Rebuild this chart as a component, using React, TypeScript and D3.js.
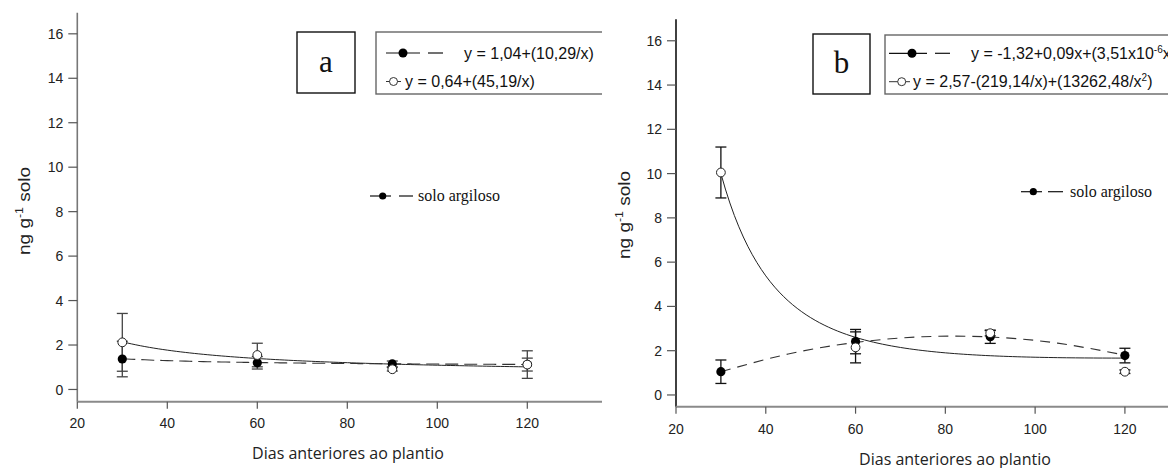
import React from "react";
import * as d3 from "d3";

// Sampling days (x values of every measured point)
const days = [30, 60, 90, 120];

// Panel a — means and standard errors (ng g-1 solo)
const aFilledMean = [1.37, 1.2, 1.15, 1.12];
const aFilledErr = [0.8, 0.28, 0.13, 0.29];
const aOpenMean = [2.12, 1.55, 0.91, 1.12];
const aOpenErr = [1.3, 0.53, 0.08, 0.62];

// Panel b — means and standard errors
const bFilledMean = [1.05, 2.41, 2.63, 1.78];
const bFilledErr = [0.53, 0.55, 0.3, 0.33];
const bOpenMean = [10.05, 2.15, 2.79, 1.05];
const bOpenErr = [1.15, 0.7, 0.12, 0.08];

// Regression coefficients printed in the legends
const aFilledFit = [1.04, 10.29]; // y = a + b/x
const aOpenFit = [0.64, 45.19]; // y = a + b/x
const bOpenFit = [2.57, -219.14, 13262.48]; // y = a + b/x + c/x^2

// Fitted dashed curve of panel b, read at regular days
const bFilledCurveDays = [30, 45, 60, 75, 90, 105, 120];
const bFilledCurveVals = [1.05, 1.85, 2.37, 2.63, 2.62, 2.34, 1.8];

const yTicks = [0, 2, 4, 6, 8, 10, 12, 14, 16];
const xTicks = [20, 40, 60, 80, 100, 120];

const SANS = "'Liberation Sans', Arial, sans-serif";
const SERIF = "'Liberation Serif', 'Times New Roman', serif";
const XLAB = "'Open Sans', 'Noto Sans', sans-serif";

type PanelProps = {
  x0: number;
  x1: number;
  xDom: [number, number];
  yTop: number;
  yBot: number;
  yDom: [number, number];
  yAxisColor: string;
  errColor: string;
  filledMean: number[];
  filledErr: number[];
  openMean: number[];
  openErr: number[];
  filledCurve: [number, number][];
  openCurve: [number, number][];
  dash: string;
  yLabelX: number;
  yLabelY: number;
  xLabelX: number;
  xLabelY: number;
  tickLabelDy: number;
};

function sampleFit(f: (x: number) => number): [number, number][] {
  return d3.range(30, 120.01, 1).map((x) => [x, f(x)] as [number, number]);
}

function Panel(p: PanelProps) {
  const x = d3.scaleLinear().domain(p.xDom).range([p.x0, p.x1]);
  const y = d3.scaleLinear().domain(p.yDom).range([p.yBot, p.yTop]);
  const y0 = y(p.yDom[0]);
  const filledLine = d3
    .line<[number, number]>()
    .x((d) => x(d[0]))
    .y((d) => y(d[1]))
    .curve(d3.curveNatural);
  const openLine = d3
    .line<[number, number]>()
    .x((d) => x(d[0]))
    .y((d) => y(d[1]))
    .curve(d3.curveLinear);
  const cap = 5.5;

  const errBars = (mean: number[], err: number[], key: string) =>
    days.map((d, i) => {
      const cx = x(d);
      const top = y(mean[i] + err[i]);
      const bot = y(mean[i] - err[i]);
      return (
        <g key={key + i} stroke={p.errColor} strokeWidth={1.3}>
          <line x1={cx} x2={cx} y1={top} y2={bot} />
          <line x1={cx - cap} x2={cx + cap} y1={top} y2={top} />
          <line x1={cx - cap} x2={cx + cap} y1={bot} y2={bot} />
        </g>
      );
    });

  return (
    <g>
      {/* axes */}
      <line x1={p.x0} x2={p.x0} y1={p.yTop} y2={y0} stroke={p.yAxisColor} strokeWidth={1.6} />
      <line x1={p.x0} x2={p.x1 + 40} y1={y0} y2={y0} stroke="#8a8a8a" strokeWidth={2} />
      {yTicks.map((t) => (
        <g key={"yt" + t}>
          <line x1={p.x0 - 9} x2={p.x0} y1={y(t)} y2={y(t)} stroke="#555" strokeWidth={1.2} />
          <text
            x={p.x0 - 14}
            y={y(t)}
            dy="0.36em"
            textAnchor="end"
            fontFamily={SANS}
            fontSize={14}
            fill="#222"
          >
            {t}
          </text>
        </g>
      ))}
      {xTicks.map((t) => (
        <g key={"xt" + t}>
          <line x1={x(t)} x2={x(t)} y1={y0} y2={y0 + 7} stroke="#555" strokeWidth={1.2} />
          <text
            x={x(t)}
            y={y0 + p.tickLabelDy}
            dy="0.36em"
            textAnchor="middle"
            fontFamily={SANS}
            fontSize={14}
            fill="#222"
          >
            {t}
          </text>
        </g>
      ))}
      <text
        transform={`translate(${p.yLabelX},${p.yLabelY}) rotate(-90)`}
        textAnchor="middle"
        fontFamily={SANS}
        fontSize={17}
        fill="#222"
        textLength={88}
        lengthAdjust="spacingAndGlyphs"
      >
        ng g
        <tspan fontSize={11} dy="-7">-1</tspan>
        <tspan dy="7"> solo</tspan>
      </text>
      <text
        x={p.xLabelX}
        y={p.xLabelY}
        textAnchor="middle"
        fontFamily={XLAB}
        fontSize={16}
        fill="#222"
      >
        Dias anteriores ao plantio
      </text>

      {/* fitted curves */}
      <path d={openLine(p.openCurve) || ""} fill="none" stroke="#222" strokeWidth={1} />
      <path
        d={filledLine(p.filledCurve) || ""}
        fill="none"
        stroke="#333"
        strokeWidth={1.1}
        strokeDasharray={p.dash}
      />

      {/* error bars and points */}
      {errBars(p.filledMean, p.filledErr, "fe")}
      {errBars(p.openMean, p.openErr, "oe")}
      {days.map((d, i) => (
        <circle key={"fp" + i} cx={x(d)} cy={y(p.filledMean[i])} r={4.6} fill="#000" />
      ))}
      {days.map((d, i) => (
        <circle
          key={"op" + i}
          cx={x(d)}
          cy={y(p.openMean[i])}
          r={4.4}
          fill="#fff"
          stroke="#222"
          strokeWidth={1}
        />
      ))}
    </g>
  );
}

function Legend(props: {
  bx: number;
  by: number;
  bh: number;
  row1: number;
  row2: number;
  sym1: { l0: number; l1: number; dot: number; d0: number; d1: number; tx: number };
  sym2: { l0: number; l1: number; dot: number; tx: number };
  eq1: React.ReactNode;
  eq2: React.ReactNode;
}) {
  const { sym1, sym2 } = props;
  return (
    <g>
      <rect
        x={props.bx}
        y={props.by}
        width={360}
        height={props.bh}
        fill="#fff"
        stroke="#666"
        strokeWidth={1.4}
      />
      <line x1={sym1.l0} x2={sym1.l1} y1={props.row1} y2={props.row1} stroke="#111" strokeWidth={1.2} />
      <line x1={sym1.d0} x2={sym1.d1} y1={props.row1} y2={props.row1} stroke="#111" strokeWidth={1.2} />
      <circle cx={sym1.dot} cy={props.row1} r={4.5} fill="#000" />
      <text x={sym1.tx} y={props.row1} dy="0.36em" fontFamily={SANS} fontSize={16} fill="#111">
        {props.eq1}
      </text>
      <line x1={sym2.l0} x2={sym2.l1} y1={props.row2} y2={props.row2} stroke="#333" strokeWidth={1} />
      <circle cx={sym2.dot} cy={props.row2} r={4} fill="#fff" stroke="#333" strokeWidth={1} />
      <text x={sym2.tx} y={props.row2} dy="0.36em" fontFamily={SANS} fontSize={16} fill="#111">
        {props.eq2}
      </text>
    </g>
  );
}

function SeriesKey(props: { l0: number; l1: number; dot: number; d0: number; d1: number; tx: number; y: number }) {
  return (
    <g>
      <line x1={props.l0} x2={props.l1} y1={props.y} y2={props.y} stroke="#111" strokeWidth={1.2} />
      <line x1={props.d0} x2={props.d1} y1={props.y} y2={props.y} stroke="#111" strokeWidth={1.2} />
      <circle cx={props.dot} cy={props.y} r={3.6} fill="#000" />
      <text x={props.tx} y={props.y} dy="0.33em" fontFamily={SERIF} fontSize={16} fill="#111">
        solo argiloso
      </text>
    </g>
  );
}

function LetterBox(props: { x: number; y: number; w: number; h: number; letter: string }) {
  return (
    <g>
      <rect x={props.x} y={props.y} width={props.w} height={props.h} fill="#fff" stroke="#111" strokeWidth={1.4} />
      <text
        x={props.x + props.w / 2}
        y={props.y + props.h / 2}
        dy="0.3em"
        textAnchor="middle"
        fontFamily={SERIF}
        fontSize={31}
        fill="#111"
      >
        {props.letter}
      </text>
    </g>
  );
}

export default function App() {
  const aFilledCurve = sampleFit((d) => aFilledFit[0] + aFilledFit[1] / d);
  const aOpenCurve = sampleFit((d) => aOpenFit[0] + aOpenFit[1] / d);
  const bOpenCurve = sampleFit((d) => bOpenFit[0] + bOpenFit[1] / d + bOpenFit[2] / (d * d));
  const bFilledCurve = bFilledCurveDays.map((d, i) => [d, bFilledCurveVals[i]] as [number, number]);

  return (
    <div style={{ position: "absolute", left: 0, top: 0, width: 1168, height: 468, background: "#fff" }}>
      <svg width={1168} height={468} viewBox="0 0 1168 468" style={{ display: "block" }}>
        <defs>
          <clipPath id="clipA">
            <rect x={0} y={0} width={602} height={468} />
          </clipPath>
        </defs>
        <rect x={0} y={0} width={1168} height={468} fill="#fff" />

        <g clipPath="url(#clipA)">
          <Panel
            x0={77.3}
            x1={602}
            xDom={[20, 136.6]}
            yTop={12.7}
            yBot={401.7}
            yDom={[-0.55, 16.95]}
            yAxisColor="#777"
            errColor="#444"
            filledMean={aFilledMean}
            filledErr={aFilledErr}
            openMean={aOpenMean}
            openErr={aOpenErr}
            filledCurve={aFilledCurve}
            openCurve={aOpenCurve}
            dash="13,6"
            yLabelX={30}
            yLabelY={211}
            xLabelX={348}
            xLabelY={459}
            tickLabelDy={21.5}
          />
          <LetterBox x={297} y={32} w={58} h={61} letter="a" />
          <Legend
            bx={376}
            by={32}
            bh={62}
            row1={53}
            row2={81.5}
            sym1={{ l0: 386, l1: 420, dot: 403, d0: 428, d1: 443, tx: 464 }}
            sym2={{ l0: 386, l1: 401, dot: 393.5, tx: 405 }}
            eq1={"y = 1,04+(10,29/x)"}
            eq2={"y = 0,64+(45,19/x)"}
          />
          <SeriesKey l0={370} l1={391} dot={382.7} d0={399} d1={413} tx={418} y={196} />
        </g>

        <Panel
          x0={676}
          x1={1168}
          xDom={[20, 129.6]}
          yTop={19.3}
          yBot={406.7}
          yDom={[-0.53, 16.97]}
          yAxisColor="#111"
          errColor="#111"
          filledMean={bFilledMean}
          filledErr={bFilledErr}
          openMean={bOpenMean}
          openErr={bOpenErr}
          filledCurve={bFilledCurve}
          openCurve={bOpenCurve}
          dash="10,7"
          yLabelX={630}
          yLabelY={215}
          xLabelX={955}
          xLabelY={465}
          tickLabelDy={22.5}
        />
        <LetterBox x={813} y={34} w={57} h={60} letter="b" />
        <Legend
          bx={885}
          by={35}
          bh={59}
          row1={53.3}
          row2={81.7}
          sym1={{ l0: 889, l1: 927, dot: 912, d0: 935, d1: 950, tx: 971 }}
          sym2={{ l0: 889, l1: 910, dot: 901.7, tx: 913 }}
          eq1={
            <>
              y = -1,32+0,09x+(3,51x10
              <tspan fontSize={10} dy="-6">-6</tspan>
              <tspan dy="6">x</tspan>
              <tspan fontSize={10} dy="-6">2</tspan>
              <tspan dy="6">)</tspan>
            </>
          }
          eq2={
            <>
              y = 2,57-(219,14/x)+(13262,48/x
              <tspan fontSize={10} dy="-6">2</tspan>
              <tspan dy="6">)</tspan>
            </>
          }
        />
        <SeriesKey l0={1021} l1={1042} dot={1033.3} d0={1048} d1={1063} tx={1070} y={191.7} />
      </svg>
    </div>
  );
}
